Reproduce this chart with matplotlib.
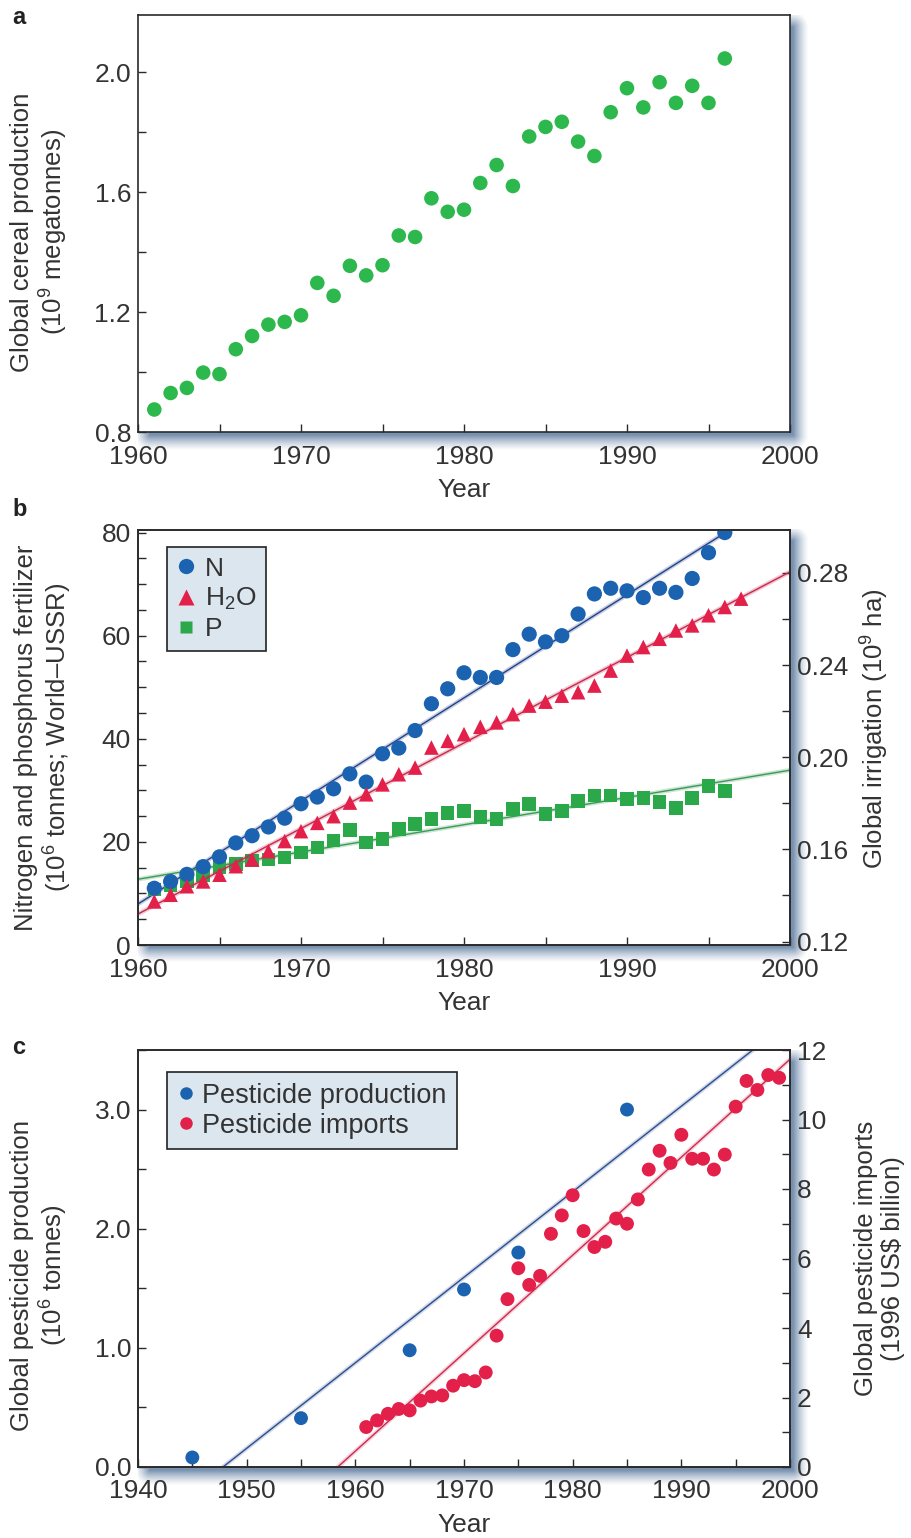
import matplotlib
matplotlib.use("Agg")
import matplotlib.pyplot as plt
import numpy as np
from matplotlib.ticker import MultipleLocator, FormatStrFormatter
from matplotlib.lines import Line2D

plt.rcParams['font.family'] = ['Liberation Sans', 'DejaVu Sans']
plt.rcParams['mathtext.fontset'] = 'custom'
plt.rcParams['mathtext.rm'] = 'Liberation Sans'
plt.rcParams['mathtext.default'] = 'regular'

# a - cereal production
years_a = np.arange(1961, 1997)
cereal = [0.875, 0.93, 0.947, 0.998, 0.993, 1.076, 1.12, 1.158, 1.167, 1.189,
          1.297, 1.254, 1.354, 1.322, 1.356, 1.455, 1.45, 1.579, 1.534, 1.541,
          1.63, 1.69, 1.62, 1.785, 1.817, 1.834, 1.768, 1.72, 1.866, 1.946,
          1.882, 1.966, 1.897, 1.954, 1.897, 2.045]

# b - fertilizer and irrigation
years_n = np.arange(1961, 1997)
nitrogen = [11.0, 12.3, 13.7, 15.2, 17.1, 19.8, 21.2, 22.9, 24.6, 27.4,
            28.7, 30.3, 33.2, 31.6, 37.1, 38.2, 41.6, 46.8, 49.7, 52.8,
            51.9, 51.9, 57.3, 60.3, 58.8, 60.0, 64.2, 68.1, 69.2, 68.7,
            67.4, 69.2, 68.4, 71.1, 76.1, 80.0]
years_w = np.arange(1961, 1998)
irrigation = [0.1374, 0.1403, 0.1440, 0.1461, 0.1490, 0.1527, 0.1556, 0.1592,
              0.1636, 0.1679, 0.1715, 0.1744, 0.1803, 0.1839, 0.1882, 0.1926,
              0.1955, 0.2042, 0.2071, 0.2100, 0.2132, 0.2151, 0.2187, 0.2224,
              0.2241, 0.2267, 0.2282, 0.2311, 0.2376, 0.2441, 0.2478, 0.2514,
              0.2550, 0.2572, 0.2616, 0.2652, 0.2688]
years_p = np.arange(1961, 1997)
phosphorus = [10.8, 11.5, 12.3, 13.6, 15.1, 15.7, 16.4, 16.6, 17.0, 17.9,
              18.9, 20.3, 22.3, 19.9, 20.6, 22.5, 23.5, 24.4, 25.6, 26.0,
              24.8, 24.4, 26.4, 27.3, 25.4, 26.0, 27.9, 29.0, 29.0, 28.3,
              28.5, 27.7, 26.6, 28.5, 30.8, 29.9]

# c - pesticides
years_prod = [1945, 1955, 1965, 1970, 1975, 1985]
pest_prod = [0.08, 0.41, 0.98, 1.49, 1.80, 3.0]
years_imp = np.arange(1961, 2000)
pest_imp = [1.15, 1.34, 1.53, 1.67, 1.63, 1.91, 2.03, 2.06, 2.34, 2.50,
            2.47, 2.72, 3.78, 4.83, 5.72, 5.24, 5.50, 6.71, 7.24, 7.82,
            6.79, 6.33, 6.48, 7.15, 7.0, 7.70, 8.56, 9.10, 8.75, 9.56,
            8.87, 8.87, 8.56, 8.99, 10.37, 11.11, 10.85, 11.28, 11.2]

GREEN_A = '#2db84d'
BLUE = '#1b63b0'
RED = '#e3204a'
GREEN = '#2aa84a'
TXT = '#333333'
LEG_BG = '#dce6ef'
TICK_FS = 19
LAB_FS = 18.5

W, H = 912, 1538
fig = plt.figure(figsize=(W / 100, H / 100), dpi=100)

def box(top, bottom):
    return [138 / W, 1 - bottom / H, 652 / W, (bottom - top) / H]

ax_a = fig.add_axes(box(15, 432))
ax_b = fig.add_axes(box(530, 945))
ax_c = fig.add_axes(box(1050, 1467))

# drop shadow behind each panel
bg = fig.add_axes([0, 0, 1, 1], zorder=-5)
for ax in (ax_a, ax_b, ax_c):
    p = ax.get_position()
    x0, x1 = p.x0 * W, p.x1 * W
    top, bot = (1 - p.y1) * H, (1 - p.y0) * H
    sx0, sx1, sy0, sy1 = x0 + 12, x1 + 3, top + 12, bot + 3
    px = np.arange(x0, x1 + 22) + 0.5
    py = np.arange(top, bot + 22) + 0.5
    PX, PY = np.meshgrid(px, py)
    dx = np.maximum.reduce([sx0 - PX, np.zeros_like(PX), PX - sx1])
    dy = np.maximum.reduce([sy0 - PY, np.zeros_like(PY), PY - sy1])
    d = np.hypot(dx, dy)
    alpha = np.clip(1 - d / 16, 0, 1) ** 1.4
    img = np.zeros(PX.shape + (4,))
    img[..., 0], img[..., 1], img[..., 2] = 0.47, 0.57, 0.69
    img[..., 3] = alpha
    bg.imshow(img, extent=(x0, x1 + 22, bot + 22, top), interpolation='bilinear')
bg.set_xlim(0, W)
bg.set_ylim(H, 0)
bg.axis('off')

def style(ax):
    for s in ax.spines.values():
        s.set_linewidth(1.2)
        s.set_color('#2a2a2a')
    ax.tick_params(which='both', direction='in', length=6, width=1.0,
                   colors='#2a2a2a', labelcolor=TXT, labelsize=TICK_FS,
                   right=False, top=False)
    ax.tick_params(axis='x', pad=9)
    ax.tick_params(axis='y', pad=5)

def xlabel(ax):
    ax.set_xlabel('Year', fontsize=TICK_FS, color=TXT)
    ax.xaxis.set_label_coords(0.5, -0.11)

# ---- panel a
ax_a.scatter(years_a, cereal, s=110, color=GREEN_A, edgecolors='none', zorder=3)
ax_a.set_xlim(1960, 2000)
ax_a.set_ylim(0.8, 2.19)
ax_a.xaxis.set_major_locator(MultipleLocator(10))
ax_a.xaxis.set_minor_locator(MultipleLocator(5))
ax_a.yaxis.set_major_locator(MultipleLocator(0.4))
ax_a.yaxis.set_minor_locator(MultipleLocator(0.2))
ax_a.yaxis.set_major_formatter(FormatStrFormatter('%.1f'))
style(ax_a)
xlabel(ax_a)
ax_a.set_ylabel('Global cereal production\n(10$^9$ megatonnes)', fontsize=LAB_FS,
                color=TXT, linespacing=1.15)
ax_a.yaxis.set_label_coords(-0.105, 0.48)

# ---- panel b
ax_b2 = ax_b.twinx()
xs = np.linspace(1960, 2000, 50)
for x, y, lc, a in [(years_n, nitrogen, '#23408a', ax_b),
                    (years_p, phosphorus, '#3a9a55', ax_b),
                    (years_w, irrigation, '#c8284e', ax_b2)]:
    m, b = np.polyfit(x, y, 1)
    a.plot(xs, m * xs + b, color=lc, lw=3.2, alpha=0.25, zorder=2)
    a.plot(xs, m * xs + b, color=lc, lw=1.0, zorder=2)
ax_b.scatter(years_p, phosphorus, s=95, marker='s', color=GREEN,
             edgecolors='none', zorder=3)
ax_b.scatter(years_n, nitrogen, s=120, marker='o', color=BLUE,
             edgecolors='none', zorder=4)
ax_b2.scatter(years_w, irrigation, s=110, marker='^', color=RED,
              edgecolors='none', zorder=3)
ax_b.set_xlim(1960, 2000)
ax_b.set_ylim(0, 80.5)
ax_b2.set_ylim(0.1185, 0.2986)
ax_b.xaxis.set_major_locator(MultipleLocator(10))
ax_b.xaxis.set_minor_locator(MultipleLocator(5))
ax_b.yaxis.set_major_locator(MultipleLocator(20))
ax_b.yaxis.set_minor_locator(MultipleLocator(5))
ax_b2.yaxis.set_major_locator(MultipleLocator(0.04))
ax_b2.yaxis.set_minor_locator(MultipleLocator(0.02))
ax_b2.yaxis.set_major_formatter(FormatStrFormatter('%.2f'))
style(ax_b)
style(ax_b2)
ax_b2.tick_params(which='both', left=False, right=True, labelleft=False,
                  labelright=True)
xlabel(ax_b)
ax_b.set_ylabel('Nitrogen and phosphorus fertilizer\n(10$^6$ tonnes; World\u2013USSR)',
                fontsize=LAB_FS, color=TXT, linespacing=1.15)
ax_b.yaxis.set_label_coords(-0.098, 0.5)
ax_b2.set_ylabel('Global irrigation (10$^9$ ha)', fontsize=LAB_FS, color=TXT,
                 rotation=90)
ax_b2.yaxis.set_label_coords(1.105, 0.52)
h_b = [Line2D([], [], ls='none', marker='o', ms=11, color=BLUE, mec='none'),
       Line2D([], [], ls='none', marker='^', ms=11, color=RED, mec='none'),
       Line2D([], [], ls='none', marker='s', ms=9, color=GREEN, mec='none')]
leg = ax_b2.legend(h_b, ['N', 'H$_2$O', 'P'], loc='upper left',
                   bbox_to_anchor=(0.044, 0.958), borderaxespad=0,
                   fancybox=False, framealpha=1, facecolor=LEG_BG,
                   edgecolor='#222222', fontsize=19, handlelength=0.8,
                   handletextpad=0.3, labelspacing=0.2, borderpad=0.35)
leg.get_frame().set_linewidth(1.2)
for t in leg.get_texts():
    t.set_color(TXT)

# ---- panel c
ax_c2 = ax_c.twinx()
m, b = np.polyfit(years_prod, pest_prod, 1)
xs = np.linspace(-b / m, 2000, 50)
ax_c.plot(xs, m * xs + b, color='#23408a', lw=3.2, alpha=0.2, zorder=2)
ax_c.plot(xs, m * xs + b, color='#2a4f8f', lw=1.0, zorder=2)
m, b = np.polyfit(years_imp, pest_imp, 1)
xs = np.linspace(-b / m, 2000, 50)
ax_c2.plot(xs, m * xs + b, color='#c8284e', lw=3.2, alpha=0.2, zorder=2)
ax_c2.plot(xs, m * xs + b, color='#d0284e', lw=1.0, zorder=2)
ax_c.scatter(years_prod, pest_prod, s=100, color=BLUE, edgecolors='none', zorder=3)
ax_c2.scatter(years_imp, pest_imp, s=100, color=RED, edgecolors='none', zorder=3)
ax_c.set_xlim(1940, 2000)
ax_c.set_ylim(0, 3.5)
ax_c2.set_ylim(0, 12)
ax_c.xaxis.set_major_locator(MultipleLocator(10))
ax_c.xaxis.set_minor_locator(MultipleLocator(5))
ax_c.yaxis.set_major_locator(MultipleLocator(1.0))
ax_c.yaxis.set_minor_locator(MultipleLocator(0.5))
ax_c.yaxis.set_major_formatter(FormatStrFormatter('%.1f'))
ax_c2.yaxis.set_major_locator(MultipleLocator(2))
ax_c2.yaxis.set_minor_locator(MultipleLocator(1))
style(ax_c)
style(ax_c2)
ax_c2.tick_params(which='both', left=False, right=True, labelleft=False,
                  labelright=True)
xlabel(ax_c)
ax_c.set_ylabel('Global pesticide production\n(10$^6$ tonnes)', fontsize=LAB_FS,
                color=TXT, linespacing=1.15)
ax_c.yaxis.set_label_coords(-0.105, 0.46)
ax_c2.set_ylabel('Global pesticide imports\n(1996 US$ billion)', fontsize=LAB_FS,
                 color=TXT, rotation=90, linespacing=1.15)
ax_c2.yaxis.set_label_coords(1.098, 0.5)
h_c = [Line2D([], [], ls='none', marker='o', ms=9, color=BLUE, mec='none'),
       Line2D([], [], ls='none', marker='o', ms=9, color=RED, mec='none')]
leg = ax_c2.legend(h_c, ['Pesticide production', 'Pesticide imports'],
                   loc='upper left', bbox_to_anchor=(0.044, 0.948),
                   borderaxespad=0, fancybox=False, framealpha=1,
                   facecolor=LEG_BG, edgecolor='#222222', fontsize=19.5,
                   handlelength=0.6, handletextpad=0.3, labelspacing=0.15,
                   borderpad=0.4)
leg.get_frame().set_linewidth(1.2)
for t in leg.get_texts():
    t.set_color(TXT)

# panel letters
for lab, y in [('a', 18), ('b', 510), ('c', 1048)]:
    fig.text(12 / W, 1 - y / H, lab, fontsize=17, fontweight='bold',
             color='#222222', va='center', ha='left')

fig.savefig('out.png', dpi=100)
